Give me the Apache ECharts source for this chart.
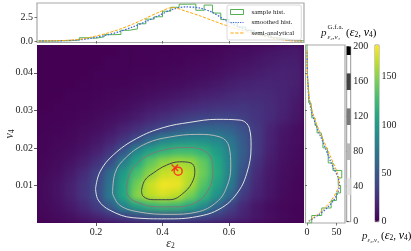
<!DOCTYPE html>
<html><head><meta charset="utf-8">
<script src="https://cdn.jsdelivr.net/npm/echarts@6/dist/echarts.min.js"></script>
<style>
html,body{margin:0;padding:0;background:#fff;width:411px;height:251px;overflow:hidden;}
#hmWrap{position:absolute;left:37px;top:45px;width:267px;height:178px;overflow:hidden;background:#440154;}
#hm{position:absolute;left:0;top:0;width:267px;height:178px;filter:blur(3.5px);}
#main{position:absolute;left:0;top:0;width:411px;height:251px;}
</style></head><body>
<div id="hmWrap"><div id="hm"></div></div>
<div id="main"></div>
<script>
// ---------- data ----------
const eps2Ticks = [0.2, 0.4, 0.6];
const v4Ticks = [0.01, 0.02, 0.03, 0.04];
const topTicks = [0, 2.5];
const rightTicks = [0, 50];
const gfaTicks = [0, 40, 80, 120, 160, 200];
const densTicks = [0, 50, 100, 150];

// heatmap cell centres
const eps2Cells = [0.043,0.083,0.123,0.163,0.203,0.243,0.283,0.323,0.364,0.404,0.444,0.484,0.524,0.564,0.604,0.644,0.684,0.724,0.764,0.804];
const v4Cells = [0.0015,0.0044,0.0074,0.0104,0.0133,0.0163,0.0193,0.0222,0.0252,0.0281,0.0311,0.0341,0.0370,0.0400,0.0430,0.0459];
// density p(eps2, v4), one row per v4 cell
const dens_r00 = [3,5,8,12,17,24,31,37,41,43,43,41,37,31,24,17,11,7,4,2];
const dens_r01 = [4,7,12,20,32,52,82,103,117,123,121,110,88,60,35,20,11,6,3,2];
const dens_r02 = [5,9,16,27,41,74,108,150,165,172,165,145,121,92,62,30,18,10,5,3];
const dens_r03 = [5,9,16,27,40,70,108,143,168,180,178,160,133,105,75,38,20,11,6,3];
const dens_r04 = [4,7,13,22,36,64,100,130,152,168,172,163,141,113,80,45,22,12,7,4];
const dens_r05 = [3,5,9,15,25,42,78,110,137,152,158,155,138,110,80,50,26,14,8,5];
const dens_r06 = [2,4,6,10,16,28,48,85,106,118,124,124,118,100,78,53,30,16,9,6];
const dens_r07 = [2,3,4,7,11,17,28,42,63,82,88,90,89,84,70,50,30,17,10,7];
const dens_r08 = [1,2,3,5,7,11,17,24,32,40,48,55,59,60,56,45,30,18,11,7];
const dens_r09 = [1,1,2,3,5,7,10,14,19,24,29,33,36,38,37,33,27,22,16,11];
const dens_r10 = [0,1,1,2,3,4,6,9,12,15,18,21,24,26,27,28,26,22,17,12];
const dens_r11 = [0,0,1,1,2,3,4,5,7,9,11,13,16,18,21,22,22,21,18,14];
const dens_r12 = [0,0,0,1,1,2,2,3,4,5,6,8,10,12,15,17,19,19,18,16];
const dens_r13 = [0,0,0,0,1,1,1,2,2,3,4,5,6,8,10,12,14,16,17,16];
const dens_r14 = [0,0,0,0,0,1,1,1,1,2,2,3,4,5,7,9,11,13,15,15];
const dens_r15 = [0,0,0,0,0,0,1,1,1,1,1,2,2,3,5,6,8,10,12,13];
const densRows = [dens_r00,dens_r01,dens_r02,dens_r03,dens_r04,dens_r05,dens_r06,dens_r07,
                  dens_r08,dens_r09,dens_r10,dens_r11,dens_r12,dens_r13,dens_r14,dens_r15];

// contour lines of p^{G.f.a.} at levels 40, 80, 120, 160
const contour40 = [[0.199,0.0092],[0.212,0.0136],[0.252,0.0181],[0.322,0.0225],[0.402,0.0254],[0.482,0.0268],[0.563,0.0276],[0.633,0.0274],[0.661,0.0252],[0.666,0.0203],[0.653,0.0132],[0.623,0.0078],[0.573,0.0038],[0.503,0.0017],[0.412,0.0011],[0.312,0.0014],[0.242,0.0034],[0.207,0.0061],[0.199,0.0092]];
const contour80 = [[0.250,0.0078],[0.257,0.0132],[0.292,0.0176],[0.352,0.0212],[0.422,0.0229],[0.503,0.0236],[0.573,0.0229],[0.600,0.0203],[0.605,0.0149],[0.593,0.0096],[0.563,0.0056],[0.503,0.0029],[0.422,0.0023],[0.332,0.0029],[0.272,0.0047],[0.250,0.0078]];
const contour120 = [[0.292,0.0087],[0.302,0.0132],[0.342,0.0172],[0.402,0.0194],[0.473,0.0201],[0.522,0.0194],[0.548,0.0167],[0.551,0.0132],[0.537,0.0087],[0.503,0.0056],[0.443,0.0043],[0.382,0.0043],[0.322,0.0056],[0.295,0.0074],[0.292,0.0087]];
const contour160 = [[0.337,0.0087],[0.347,0.0114],[0.372,0.0133],[0.412,0.0154],[0.452,0.0163],[0.485,0.0160],[0.497,0.0141],[0.492,0.0114],[0.467,0.0083],[0.422,0.0062],[0.372,0.0062],[0.342,0.0071],[0.337,0.0087]];
const gfaLevels = [40, 80, 120, 160, 200];

// red markers
const markerCircle = [[0.447, 0.0138]];
const markerCross = [[0.437, 0.0147]];

// top marginal (eps2)
const eps2Grid = [0.03,0.07,0.11,0.15,0.19,0.23,0.27,0.31,0.35,0.39,0.43,0.47,0.51,0.55,0.59,0.63,0.67,0.71,0.75,0.79,0.82];
const smoothEps2 = [0,0.01,0.04,0.12,0.33,0.62,1.0,1.5,2.08,2.75,3.4,3.66,3.55,3.08,2.2,1.5,1.0,0.6,0.22,0.05,0.01];
const semiEps2 = [0,0.02,0.07,0.18,0.45,0.8,1.25,1.8,2.45,3.1,3.6,3.2,2.73,2.2,1.68,1.24,0.84,0.48,0.2,0.01,0];
const eps2Edges = [0.025,0.05,0.075,0.1,0.125,0.15,0.175,0.2,0.225,0.25,0.275,0.3,0.325,0.35,0.375,0.4,0.425,0.45,0.475,0.5,0.525,0.55,0.575,0.6,0.625,0.65,0.675,0.7,0.725,0.75,0.775,0.8,0.825];
const sampleEps2 = [0,0,0.03,0.04,0.1,0.35,0.3,0.45,0.68,0.7,1.15,1.3,1.85,2.35,2.6,3.2,3.62,3.95,3.97,3.3,3.86,3.0,2.3,1.95,1.5,1.15,0.9,0.6,0.35,0.2,0.05,0.02];

// right marginal (v4)
const v4Grid = [0.0005,0.002,0.004,0.006,0.008,0.010,0.012,0.014,0.016,0.018,0.020,0.022,0.024,0.026,0.028,0.030,0.032,0.034,0.036,0.038,0.040,0.043,0.046];
const smoothV4 = [3,18,34,45,52,55,53,47,41,36,31,25.8,20.5,15.5,10.8,7.2,4.5,2.8,1.7,1,0.5,0.2,0.1];
const semiV4 = [3,16,30,41,49,53.5,53.5,50,44.5,39,33.5,28,22.5,17,12.5,8.5,5.5,3.3,2,1.1,0.6,0.2,0.1];
const v4Edges = [0,0.002,0.004,0.006,0.008,0.010,0.012,0.014,0.016,0.018,0.020,0.022,0.024,0.026,0.028,0.030,0.032,0.034,0.036,0.038,0.040,0.042,0.044,0.046,0.048];
const sampleV4 = [8,25,41,50,57,53,59,44,36,34,27,24,17,13.5,8,6.5,3,2.5,1.2,0.8,0.3,0.2,0,0];

// ---------- styles ----------
const viridis = ['#440154','#482475','#414487','#355f8d','#2a788e','#21918c','#22a884','#44bf70','#7ad151','#bddf26','#fde725'];
const greyLevels = ['#e4e4e4','#b7b7b7','#7a7a7a','#434343','#000000'];
const cGreen = '#55b055', cBlue = '#4169e1', cOrange = '#ffa500';
const serif = 'Liberation Serif';
const txt = '#222';
const lab = {fontFamily: serif, fontSize: 10, color: txt};
// legend handles (13 x 5 box): dotted and dashed strokes
const iconDotted = 'path://M0 0h0.01v0.01h-0.01z M12.99 4.99h0.01v0.01h-0.01z M0 1.9h1.2v1.2h-1.2z M2.4 1.9h1.2v1.2h-1.2z M4.8 1.9h1.2v1.2h-1.2z M7.2 1.9h1.2v1.2h-1.2z M9.6 1.9h1.2v1.2h-1.2z M12 1.9h1v1.2h-1z';
const iconDashed = 'path://M0 0h0.01v0.01h-0.01z M12.99 4.99h0.01v0.01h-0.01z M0 2h3.2v1h-3.2z M4.8 2h3.2v1h-3.2z M9.6 2h3.4v1h-3.4z';

// ---------- heatmap (own instance, softened) ----------
const hmData = [];
densRows.forEach((row, j) => row.forEach((v, i) => hmData.push([i, j, v])));
const hm = echarts.init(document.getElementById('hm'));
hm.setOption({
  animation: false,
  grid: {left: 0, right: 0, top: 0, bottom: 0},
  xAxis: {type: 'category', data: eps2Cells, show: false},
  yAxis: {type: 'category', data: v4Cells, show: false},
  visualMap: {show: false, min: 0, max: 182.8, calculable: false, inRange: {color: viridis}},
  series: [{type: 'heatmap', data: hmData, itemStyle: {borderWidth: 0}}]
});

// ---------- main instance ----------
const topHist = [[eps2Edges[0], 0]];
sampleEps2.forEach((v, i) => topHist.push([eps2Edges[i], v]));
topHist.push([eps2Edges[eps2Edges.length - 1], sampleEps2[sampleEps2.length - 1]]);
topHist.push([eps2Edges[eps2Edges.length - 1], 0]);

const rightHist = [[0, v4Edges[0]]];
sampleV4.forEach((v, i) => rightHist.push([v, v4Edges[i]]));
rightHist.push([0, v4Edges[v4Edges.length - 1]]);

const hwBand = 9.5;
const gfaBands = gfaLevels.map((l, k) => [
  {xAxis: 0, yAxis: l - hwBand, itemStyle: {color: greyLevels[k]}},
  {xAxis: 1, yAxis: Math.min(l + hwBand, 200)}
]);

const noSplit = {show: false};
const gridBase = {containLabel: false, outerBoundsMode: 'none'};

const sym = {
  i: {fontFamily: serif, fontStyle: 'italic', fontSize: 12, color: txt, lineHeight: 13},
  n: {fontFamily: serif, fontSize: 11, color: txt, lineHeight: 13},
  s: {fontFamily: serif, fontSize: 7.5, color: txt, verticalAlign: 'bottom', lineHeight: 8}
};

const chart = echarts.init(document.getElementById('main'));
chart.setOption({
  animation: false,
  backgroundColor: 'transparent',
  grid: [
    Object.assign({left: 37, top: 45, width: 267, height: 178, show: false}, gridBase),
    Object.assign({left: 37, top: 3, width: 267, height: 39.5, show: true, borderColor: '#a8a8a8', borderWidth: 1.2, backgroundColor: 'transparent'}, gridBase),
    Object.assign({left: 305.5, top: 45, width: 39.5, height: 178, show: true, borderColor: '#a8a8a8', borderWidth: 1.2, backgroundColor: 'transparent'}, gridBase),
    Object.assign({left: 346.7, top: 46.7, width: 4, height: 175, show: true, borderColor: '#555', borderWidth: 0.6, backgroundColor: '#fff'}, gridBase),
    Object.assign({left: 375, top: 45, width: 4, height: 176.7, show: true, borderColor: '#555', borderWidth: 0.6, backgroundColor: 'transparent'}, gridBase)
  ],
  xAxis: [
    {gridIndex: 0, type: 'value', min: 0.023, max: 0.825, splitLine: noSplit,
     axisLine: {show: false},
     axisTick: {show: true, customValues: eps2Ticks, length: 3, lineStyle: {color: '#333', width: 0.8}},
     axisLabel: {customValues: eps2Ticks, margin: 4, formatter: v => v.toFixed(1), ...lab},
     name: '{i|ε}{s|2}', nameLocation: 'middle', nameGap: 14, nameMoveOverlap: false, nameTextStyle: {rich: sym}},
    {gridIndex: 1, type: 'value', min: 0.023, max: 0.825, splitLine: noSplit,
     axisLine: {show: false},
     axisTick: {show: true, customValues: eps2Ticks, length: 2.5, lineStyle: {color: '#555', width: 0.8}},
     axisLabel: {show: false}},
    {gridIndex: 2, type: 'value', min: -2.6, max: 64.5, splitLine: noSplit,
     axisLine: {show: false},
     axisTick: {show: true, customValues: rightTicks, length: 2.5, lineStyle: {color: '#555', width: 0.8}},
     axisLabel: {customValues: rightTicks, margin: 4, ...lab}},
    {gridIndex: 3, type: 'value', min: 0, max: 1, show: false},
    {gridIndex: 4, type: 'value', min: 0, max: 1, show: false}
  ],
  yAxis: [
    {gridIndex: 0, type: 'value', min: 0, max: 0.0474, splitLine: noSplit,
     axisLine: {show: false},
     axisTick: {show: true, customValues: v4Ticks, length: 3, lineStyle: {color: '#333', width: 0.8}},
     axisLabel: {customValues: v4Ticks, margin: 4, formatter: v => v.toFixed(2), ...lab},
     name: '{i|v}{s|4}', nameLocation: 'middle', nameGap: 21, nameRotate: 90, nameMoveOverlap: false, nameTextStyle: {rich: sym}},
    {gridIndex: 1, type: 'value', min: -0.16, max: 4.08, splitLine: noSplit,
     axisLine: {show: false},
     axisTick: {show: true, customValues: topTicks, length: 2.5, lineStyle: {color: '#555', width: 0.8}},
     axisLabel: {customValues: topTicks, margin: 4, formatter: v => v.toFixed(1), padding: [0, 0, 5, 0], ...lab}},
    {gridIndex: 2, type: 'value', min: 0, max: 0.0474, splitLine: noSplit,
     axisLine: {show: false},
     axisTick: {show: true, customValues: v4Ticks, length: 2, lineStyle: {color: '#555', width: 0.8}},
     axisLabel: {show: false}},
    {gridIndex: 3, type: 'value', min: 0, max: 200, position: 'right', splitLine: noSplit,
     axisLine: {show: false},
     axisTick: {show: true, customValues: gfaTicks, length: 2, lineStyle: {color: '#333', width: 0.8}},
     axisLabel: {customValues: gfaTicks, margin: 2.5, ...lab}},
    {gridIndex: 4, type: 'value', min: 0, max: 182.8, position: 'right', splitLine: noSplit,
     axisLine: {show: false},
     axisTick: {show: true, customValues: densTicks, length: 2, lineStyle: {color: '#333', width: 0.8}},
     axisLabel: {customValues: densTicks, margin: 2.5, ...lab}}
  ],
  visualMap: [{
    type: 'continuous', min: 0, max: 182.8, seriesIndex: [], left: 375, top: 45,
    itemWidth: 4, itemHeight: 176.7, padding: 0, calculable: false, hoverLink: false,
    inRange: {color: viridis}
  }],
  legend: {
    orient: 'vertical', left: 227, top: 5, padding: [3, 7, 3, 3],
    backgroundColor: 'rgba(255,255,255,0.8)', borderColor: '#d0d0d0', borderWidth: 0.8, borderRadius: 2,
    itemWidth: 13, itemHeight: 5, itemGap: 2.5,
    textStyle: {fontFamily: serif, fontSize: 7, color: txt, lineHeight: 8, padding: [0, 0, 0, 3]},
    data: [
      {name: 'sample hist.', icon: 'rect', itemStyle: {color: 'transparent', borderColor: cGreen, borderWidth: 1}},
      {name: 'smoothed hist.', icon: iconDotted, itemStyle: {color: cBlue, borderWidth: 0}},
      {name: 'semi-analytical', icon: iconDashed, itemStyle: {color: cOrange, borderWidth: 0}}
    ]
  },
  series: [
    {type: 'line', xAxisIndex: 0, yAxisIndex: 0, data: contour40, smooth: 0.4, symbol: 'none', silent: true,
     lineStyle: {color: greyLevels[0], width: 1}},
    {type: 'line', xAxisIndex: 0, yAxisIndex: 0, data: contour80, smooth: 0.4, symbol: 'none', silent: true,
     lineStyle: {color: greyLevels[1], width: 1}},
    {type: 'line', xAxisIndex: 0, yAxisIndex: 0, data: contour120, smooth: 0.4, symbol: 'none', silent: true,
     lineStyle: {color: greyLevels[2], width: 1}},
    {type: 'line', xAxisIndex: 0, yAxisIndex: 0, data: contour160, smooth: 0.4, symbol: 'none', silent: true,
     lineStyle: {color: greyLevels[3], width: 1}},
    {type: 'scatter', xAxisIndex: 0, yAxisIndex: 0, data: markerCircle, symbol: 'circle', symbolSize: 8, silent: true,
     itemStyle: {color: 'transparent', borderColor: '#ff1a1a', borderWidth: 1.5}, z: 5},
    {type: 'scatter', xAxisIndex: 0, yAxisIndex: 0, data: markerCross, symbol: 'path://M0 0L10 10M10 0L0 10', symbolSize: 6.5, silent: true,
     itemStyle: {color: 'transparent', borderColor: '#ff1a1a', borderWidth: 1.5}, z: 5},

    {name: 'sample hist.', type: 'line', xAxisIndex: 1, yAxisIndex: 1, data: topHist, step: 'end', symbol: 'none',
     lineStyle: {color: cGreen, width: 1}, itemStyle: {color: cGreen}},
    {name: 'smoothed hist.', type: 'line', xAxisIndex: 1, yAxisIndex: 1, data: eps2Grid.map((x, i) => [x, smoothEps2[i]]),
     smooth: 0.3, symbol: 'none', lineStyle: {color: cBlue, width: 1.3, type: [1.5, 1.5]}, itemStyle: {color: cBlue}},
    {name: 'semi-analytical', type: 'line', xAxisIndex: 1, yAxisIndex: 1, data: eps2Grid.map((x, i) => [x, semiEps2[i]]),
     smooth: 0.3, symbol: 'none', lineStyle: {color: cOrange, width: 1, type: [3, 1.5]}, itemStyle: {color: cOrange}},

    {name: 'sample hist.', type: 'line', xAxisIndex: 2, yAxisIndex: 2, data: rightHist, step: 'start', symbol: 'none',
     lineStyle: {color: cGreen, width: 1}, itemStyle: {color: cGreen}},
    {name: 'smoothed hist.', type: 'line', xAxisIndex: 2, yAxisIndex: 2, data: v4Grid.map((y, i) => [smoothV4[i], y]),
     smooth: 0.3, symbol: 'none', lineStyle: {color: cBlue, width: 1.3, type: [1.5, 1.5]}, itemStyle: {color: cBlue}},
    {name: 'semi-analytical', type: 'line', xAxisIndex: 2, yAxisIndex: 2, data: v4Grid.map((y, i) => [semiV4[i], y]),
     smooth: 0.3, symbol: 'none', lineStyle: {color: cOrange, width: 1, type: [3, 1.5]}, itemStyle: {color: cOrange}},

    {type: 'line', xAxisIndex: 3, yAxisIndex: 3, data: [], silent: true,
     markArea: {silent: true, data: gfaBands}}
  ],
  graphic: [
    {type: 'text', x: 321, y: 33, style: {text: 'p', font: 'italic 11px "Liberation Serif"', fill: txt, verticalAlign: 'middle'}},
    {type: 'text', x: 327.5, y: 27, style: {text: 'G.f.a.', font: '7px "Liberation Serif"', fill: txt, verticalAlign: 'middle'}},
    {type: 'text', x: 327.5, y: 37.5, style: {text: 'ε₂,v₄', font: 'italic 7px "Liberation Serif"', fill: txt, verticalAlign: 'middle'}},
    {type: 'text', x: 346, y: 33, style: {text: '{n|(}{i|ε}{s|2}{n|, }{i|v}{s|4}{n|)}', rich: sym, verticalAlign: 'middle'}},

    {type: 'text', x: 362, y: 236, style: {text: 'p', font: 'italic 11px "Liberation Serif"', fill: txt, verticalAlign: 'middle'}},
    {type: 'text', x: 367.5, y: 240.5, style: {text: 'ε₂,v₄', font: 'italic 6.5px "Liberation Serif"', fill: txt, verticalAlign: 'middle'}},
    {type: 'text', x: 381, y: 236, style: {text: '{n|(}{i|ε}{s|2}{n|, }{i|v}{s|4}{n|)}', rich: sym, verticalAlign: 'middle'}}
  ]
});
</script>
</body></html>
